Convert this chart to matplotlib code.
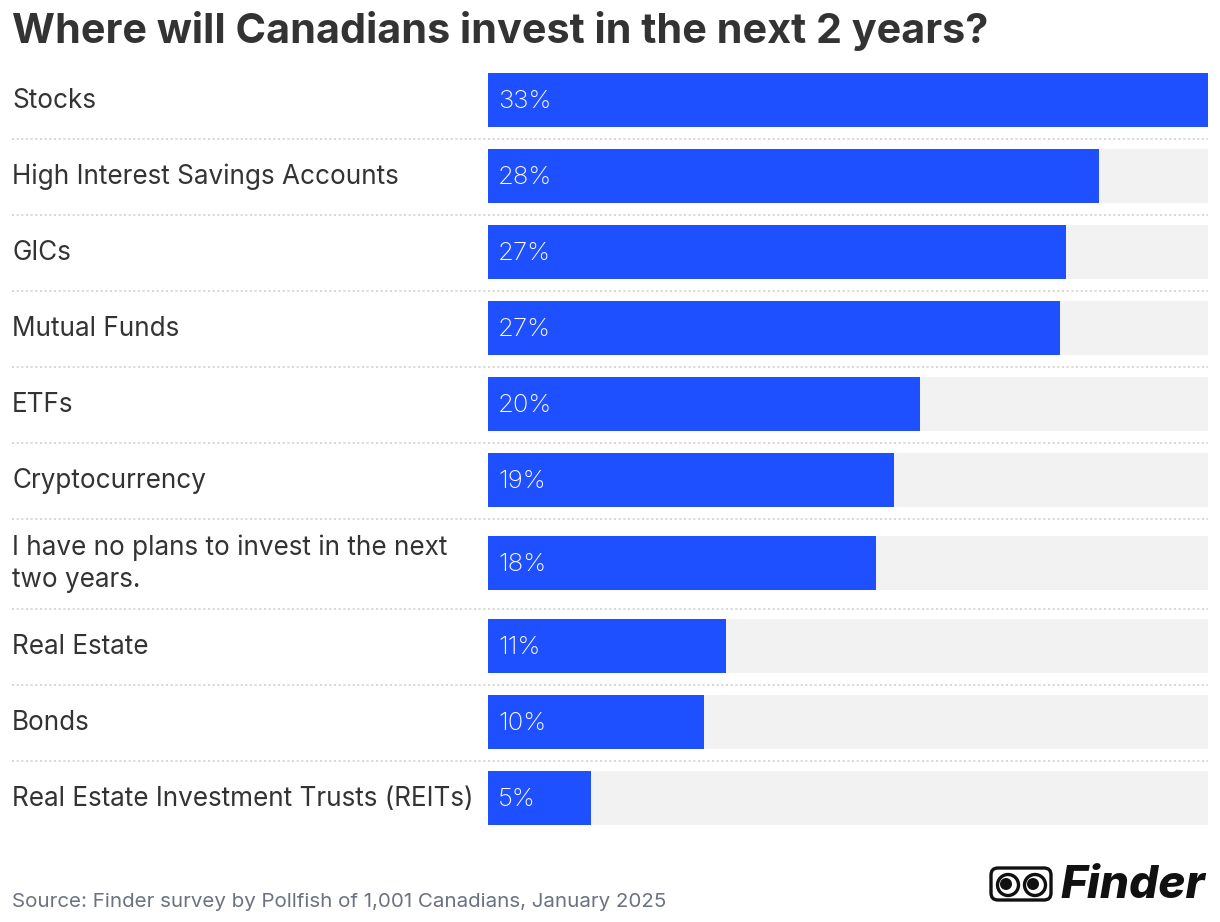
import matplotlib
matplotlib.use("Agg")
import matplotlib.pyplot as plt
from matplotlib.patches import FancyBboxPatch, Circle

# ---- data ----
categories = [
    "Stocks",
    "High Interest Savings Accounts",
    "GICs",
    "Mutual Funds",
    "ETFs",
    "Cryptocurrency",
    "I have no plans to invest in the next\ntwo years.",
    "Real Estate",
    "Bonds",
    "Real Estate Investment Trusts (REITs)",
]
values = [33.0, 28.0, 26.5, 26.2, 19.8, 18.6, 17.8, 10.9, 9.9, 4.7]
value_labels = ["33%", "28%", "27%", "27%", "20%", "19%", "18%", "11%", "10%", "5%"]

title = "Where will Canadians invest in the next 2 years?"
source = "Source: Finder survey by Pollfish of 1,001 Canadians, January 2025"

# ---- layout (pixels) ----
W, H = 1220, 922
BAR_X0, BAR_X1 = 488, 1208
LABEL_X = 12
ROW_TOP = 62
row_heights = [76, 76, 76, 76, 76, 76, 90, 76, 76, 76]
BAR_H = 54
BLUE = "#1f50ff"
TRACK = "#f2f2f2"
DARK = "#333333"
FONT = ["Inter", "DejaVu Sans"]

fig = plt.figure(figsize=(W / 100, H / 100), dpi=100)
fig.patch.set_facecolor("white")

# bar axes: x in percent, y in pixels
ax = fig.add_axes([BAR_X0 / W, 0, (BAR_X1 - BAR_X0) / W, 1])
ax.set_xlim(0, max(values))
ax.set_ylim(H, 0)
ax.axis("off")
ax.set_zorder(1)

# overlay axes in pixel coordinates (texts, separators, logo)
bg = fig.add_axes([0, 0, 1, 1])
bg.set_xlim(0, W)
bg.set_ylim(H, 0)
bg.axis("off")
bg.set_zorder(2)

centers = []
y = ROW_TOP
for h in row_heights:
    centers.append(y + h / 2)
    y += h
separators = []
y = ROW_TOP
for h in row_heights[:-1]:
    y += h
    separators.append(y)

xmax = max(values)
ax.barh(centers, [xmax] * len(values), height=BAR_H, color=TRACK, zorder=1)
ax.barh(centers, values, height=BAR_H, color=BLUE, zorder=2)

for c, lab in zip(centers, value_labels):
    bg.text(BAR_X0 + 10, c + 1, lab, color="white", fontsize=18.5, family=FONT,
            fontweight="light", va="center", ha="left", zorder=5)

for c, cat in zip(centers, categories):
    bg.text(LABEL_X, c + 1, cat, color=DARK, fontsize=18.8, family=FONT,
            va="center", ha="left", linespacing=1.3)

for s in separators:
    bg.plot([LABEL_X, BAR_X1], [s + 1, s + 1], color="#d0d0d0", lw=1.2,
            linestyle=(0, (1.2, 1.6)))

bg.text(LABEL_X, 31, title, color=DARK, fontsize=29.8, fontweight="bold",
        family=FONT, va="center", ha="left")

bg.text(LABEL_X, 902, source, color="#6b7280", fontsize=14.8, family=FONT,
        va="center", ha="left")

# logo
bg.add_patch(FancyBboxPatch((991, 868), 60, 32, boxstyle="round,pad=0,rounding_size=7",
                            fill=False, ec="#111111", lw=2.4))
for cx in (1008, 1035):
    bg.add_patch(Circle((cx, 885), 10.5, fc="white", ec="#111111", lw=2.4))
    bg.add_patch(Circle((cx - 2, 884), 6, fc="#111111", ec="none"))
bg.text(1133, 886, "Finder", color="#111111", fontsize=33, fontweight="heavy",
        fontstyle="italic", family=FONT, va="center", ha="center")

fig.savefig("out.png", dpi=100, facecolor="white")
